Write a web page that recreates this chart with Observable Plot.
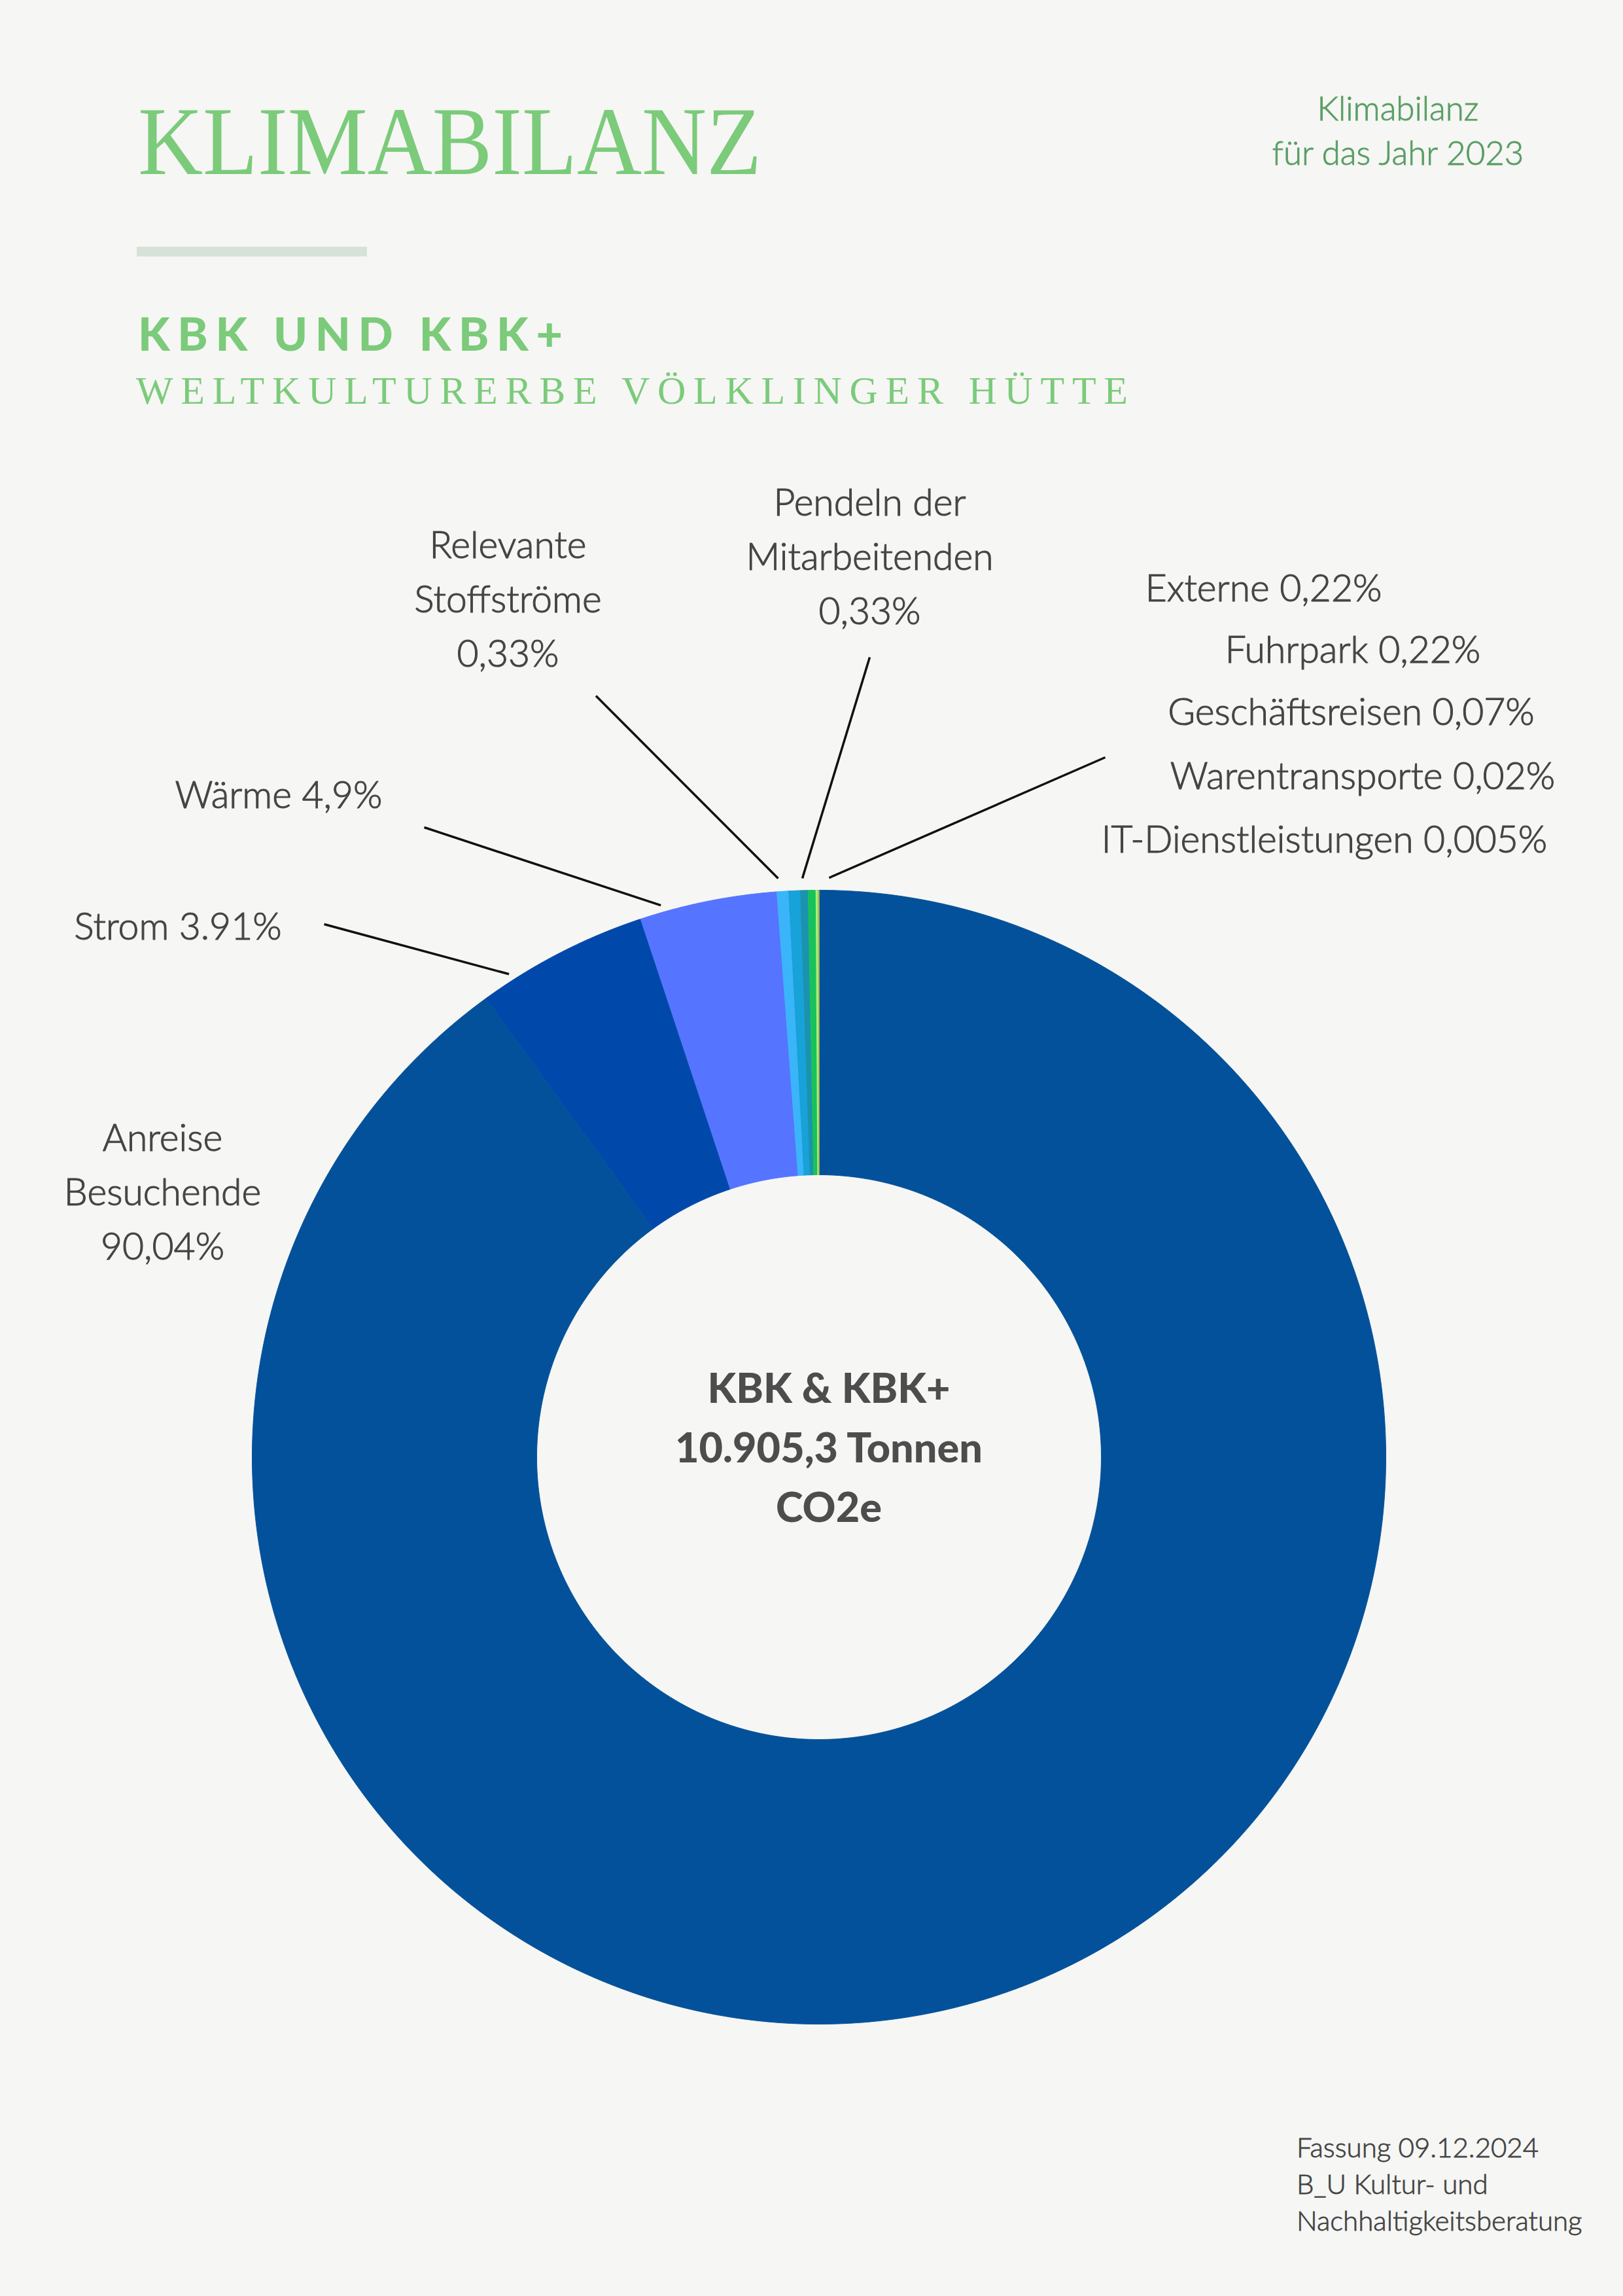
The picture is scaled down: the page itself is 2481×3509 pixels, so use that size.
<!DOCTYPE html>
<html><head><meta charset="utf-8">
<script src="https://cdn.jsdelivr.net/npm/d3@7"></script>
<script src="https://cdn.jsdelivr.net/npm/@observablehq/plot@0.6"></script>
<style>
html,body{margin:0;padding:0;background:#F6F6F4;}
body{width:2481px;height:3509px;position:relative;overflow:hidden;}
.t{position:absolute;white-space:nowrap;line-height:1;}
#chart{position:absolute;left:0;top:680px;}
</style></head><body>
<div id="title" class="t" style="left:211px;top:142px;font-family:'Liberation Serif';font-size:148px;color:#7BCB7A;transform-origin:0 0;">KLIMABILANZ</div>
<div class="t" style="left:209px;top:377px;width:352px;height:15px;background:#D6E2D7;"></div>
<div id="sub1" class="t" style="left:211px;top:474px;font-family:Lato;font-weight:900;font-size:70px;color:#7BCB7A;">KBK UND KBK+</div>
<div id="sub2" class="t" style="left:208px;top:567px;font-family:'Liberation Serif';font-size:60px;color:#7BCB7A;">WELTKULTURERBE VÖLKLINGER HÜTTE</div>
<div class="t" style="left:1937px;top:131px;width:400px;text-align:center;font-family:Lato;font-weight:300;font-size:51px;line-height:68px;color:#5A9E65;-webkit-text-stroke:0.9px #5A9E65;">Klimabilanz<br>für das Jahr 2023</div>
<div id="chart"></div>
<div class="t" style="left:1982px;top:3253px;font-family:Lato;font-weight:300;font-size:42px;line-height:56px;color:#444;-webkit-text-stroke:0.8px #444;">Fassung 09.12.2024<br>B_U Kultur- und<br>Nachhaltigkeitsberatung</div>
<script>
// ---- data ----
const categories = ["Anreise Besuchende","Wärme","Strom","Relevante Stoffströme","Pendeln der Mitarbeitenden","Externe","Fuhrpark","Geschäftsreisen","Warentransporte","IT-Dienstleistungen"];
const shares = [90.04, 4.9, 3.91, 0.33, 0.33, 0.22, 0.22, 0.07, 0.02, 0.005];
const sliceColors = ["#03519A","#0049AB","#5574FF","#3AB5F9","#17A2D9","#1A93AE","#18C25B","#ADEE72","#2B7F4A","#FFDE59"];
const labelTexts = ["Anreise\nBesuchende\n90,04%","Wärme 4,9%","Strom 3.91%","Relevante\nStoffströme\n0,33%","Pendeln der\nMitarbeitenden\n0,33%","Externe 0,22%","Fuhrpark 0,22%","Geschäftsreisen 0,07%","Warentransporte 0,02%","IT-Dienstleistungen 0,005%"];
const centerText = "KBK & KBK+\n10.905,3 Tonnen\nCO2e";

// ---- layout ----
const W = 2481, H = 2520;
const donut = {cx: 1251.5, cy: 1546.5, R: 866.5, r: 431.5};
const labelPos = [[248,1244],[425.5,554],[271.5,755],[776,338],[1329,273],[1931,238],[2067.5,332],[2065,427],[2082.5,525],[2024,622]];
const leaderLayout = [ // start point, end angle (deg from top, clockwise), end radius
  {x:910.5, y:383, a:-4.04, rr:886.7},
  {x:1329, y:324, a:-1.65, rr:885},
  {x:1689, y:477, a:1.0, rr:885.6},
  {x:648, y:584, a:-16.0, rr:877.4},
  {x:495, y:732, a:-32.7, rr:877.3}
];

// ---- slices ----
const arcs = d3.pie().sort(null).value(d => d)(shares);
const pts = [];
const step = 0.2 * Math.PI / 180;
arcs.forEach((a, i) => {
  const n = Math.max(2, Math.ceil((a.endAngle - a.startAngle) / step));
  const outer = [], inner = [];
  for (let k = 0; k <= n; k++) {
    const t = a.startAngle + (a.endAngle - a.startAngle) * k / n;
    outer.push([t, donut.R]);
    inner.unshift([t, donut.r]);
  }
  for (const [t, rad] of outer.concat(inner)) {
    pts.push({name: categories[i], color: sliceColors[i], x: donut.cx + rad * Math.sin(t), y: donut.cy - rad * Math.cos(t)});
  }
});

const labels = labelTexts.map((t, i) => ({text: t, x: labelPos[i][0], y: labelPos[i][1]}));
const leaders = leaderLayout.map(d => ({x1: d.x, y1: d.y,
  x2: donut.cx + d.rr * Math.sin(d.a * Math.PI / 180),
  y2: donut.cy - d.rr * Math.cos(d.a * Math.PI / 180)}));

const plot = Plot.plot({
  width: W, height: H,
  margin: 0,
  x: {domain: [0, W], range: [0, W], axis: null},
  y: {domain: [0, H], range: [0, H], axis: null},
  color: {type: "identity"},
  style: {background: "transparent", fontFamily: "Lato"},
  marks: [
    Plot.line(pts, {x: "x", y: "y", z: "name", fill: "color", stroke: "color", strokeWidth: 1, curve: "linear"}),
    Plot.link(leaders, {x1: "x1", y1: "y1", x2: "x2", y2: "y2", stroke: "#111", strokeWidth: 3.5}),
    Plot.text(labels, {x: "x", y: "y", text: "text", lineAnchor: "bottom", textAnchor: "middle", fontSize: 57, fontWeight: 300, lineHeight: 1.45, fill: "#454545", stroke: "#454545", strokeWidth: 1.1, fontFamily: "Lato"}),
    Plot.text([centerText], {x: donut.cx + 15, y: 1645, text: d => d, lineAnchor: "bottom", textAnchor: "middle", fontSize: 63, fontWeight: 900, lineHeight: 1.44, fill: "#4D4D4D", fontFamily: "Lato"})
  ]
});
document.getElementById("chart").appendChild(plot);

// ---- fit header text widths ----
const ctx = document.createElement("canvas").getContext("2d");
function measure(el) {
  const cs = getComputedStyle(el);
  ctx.font = `${cs.fontWeight} ${cs.fontSize} ${cs.fontFamily}`;
  return ctx.measureText(el.textContent).width;
}
function fitScale(id, target) {
  const el = document.getElementById(id);
  el.style.transform = `scaleX(${target / measure(el)})`;
}
function fitSpacing(id, target) {
  const el = document.getElementById(id);
  const n = el.textContent.length;
  el.style.letterSpacing = ((target - measure(el)) / (n - 1)) + "px";
}
fitScale("title", 953);
fitSpacing("sub1", 649);
fitSpacing("sub2", 1517);
</script>
</body></html>
